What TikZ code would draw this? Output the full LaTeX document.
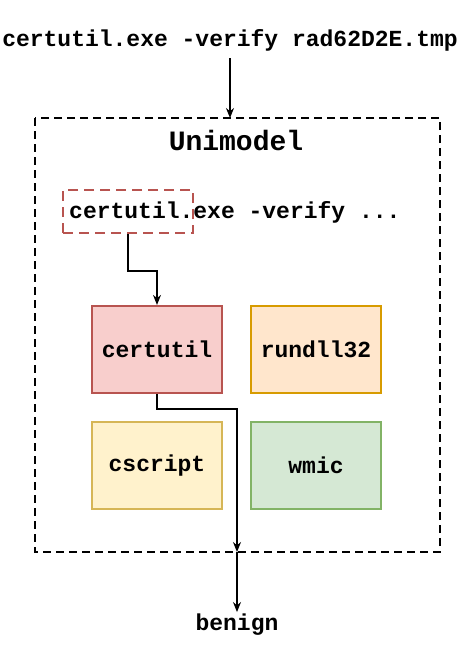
\documentclass[tikz,border=0pt]{standalone}
\usepackage{fontspec}
\setmonofont{Liberation Mono}
\usetikzlibrary{arrows.meta}
\definecolor{redfill}{HTML}{F8CECC}
\definecolor{redline}{HTML}{B85450}
\definecolor{orangefill}{HTML}{FFE6CC}
\definecolor{orangeline}{HTML}{D79B00}
\definecolor{yellowfill}{HTML}{FFF2CC}
\definecolor{yellowline}{HTML}{D6B656}
\definecolor{greenfill}{HTML}{D5E8D4}
\definecolor{greenline}{HTML}{82B366}
\tikzset{
  txt/.style={font=\ttfamily\bfseries\fontsize{23}{27}\selectfont, inner sep=2pt},
  tool/.style={txt, draw, line width=2.2pt, minimum width=130pt, minimum height=87pt},
  arr/.style={-{Stealth[length=10pt,width=8pt]}, line width=1.3pt}
}
\begin{document}
\begin{tikzpicture}[x=1pt,y=-1pt]
\useasboundingbox (0,0) rectangle (460,666);
% input command
\node[txt] (cmd) at (230,40) {certutil.exe -verify rad62D2E.tmp};
% model frame
\draw[line width=2.2pt, dash pattern=on 8pt off 5pt] (35,118) rectangle (440,552);
\coordinate (top) at (230,118);
\coordinate (exit) at (237,552);
\node[txt, font=\ttfamily\bfseries\fontsize{28}{32}\selectfont] (title) at (236,140) {Unimodel};
\node[draw=redline, line width=2.2pt, dash pattern=on 10pt off 6pt, minimum width=130pt, minimum height=43pt] (hl) at (128,211.5) {};
\node[txt, anchor=west, inner sep=0pt] (line) at (69,212) {certutil.exe -verify ...};
% tools
\node[tool, draw=redline, fill=redfill] (certutil) at (157,349.5) {certutil};
\node[tool, draw=orangeline, fill=orangefill] (rundll) at (316,349.5) {rundll32};
\node[tool, draw=yellowline, fill=yellowfill] (cscript) at (157,465.5) {cscript};
\node[tool, draw=greenline, fill=greenfill] (wmic) at (316,465.5) {wmic};
% output
\node[txt] (benign) at (237,625) {benign};
% connectors
\draw[arr] (cmd.south) ++(0,5) -- (top);
\draw[arr] (hl.south) -- ++(0,37) -| (certutil.north);
\draw[arr] (certutil.south) -- ++(0,15) -| (exit);
\draw[arr] (exit) -- (benign.north);
\end{tikzpicture}
\end{document}
